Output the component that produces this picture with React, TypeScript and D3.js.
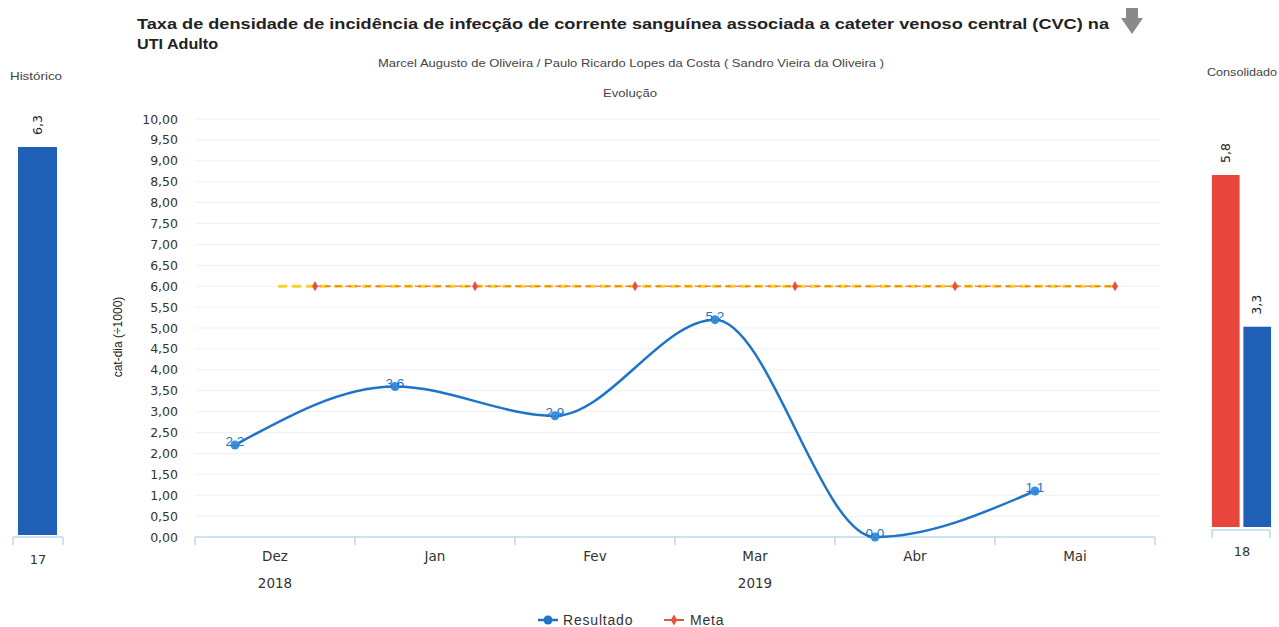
import React from "react";
import * as d3 from "d3";

const categories = ["Dez", "Jan", "Fev", "Mar", "Abr", "Mai"];
const years = [{ label: "2018", at: "Dez" }, { label: "2019", at: "Mar" }];
const resultado = [2.2, 3.6, 2.9, 5.2, 0.0, 1.1];
const meta = [6.0, 6.0, 6.0, 6.0, 6.0, 6.0];
const yTicks = d3.range(0, 10.01, 0.5);
const historicoValue = 6.3;
const historicoLabel = "17";
const consolidadoValues = [5.8, 3.3];
const consolidadoLabel = "18";

const fmt1 = (v: number) => v.toFixed(1).replace(".", ",");
const fmt2 = (v: number) => v.toFixed(2).replace(".", ",");

const FONT = "Liberation Sans, Arial, sans-serif";
const WIDE = "DejaVu Sans, sans-serif";

export default function App() {
  const W = 1279, H = 627;
  const x = d3.scaleBand<string>().domain(categories).range([195, 1155]);
  const y = d3.scaleLinear().domain([0, 10]).range([537, 119]);
  const bw = x.bandwidth();
  const xRes = (c: string) => (x(c) as number) + bw * 0.25;
  const xMeta = (c: string) => (x(c) as number) + bw * 0.75;

  const resLine = d3
    .line<number>()
    .x((_, i) => xRes(categories[i]))
    .y((d) => y(d))
    .curve(d3.curveMonotoneX);
  const metaLine = d3
    .line<number>()
    .x((_, i) => xMeta(categories[i]))
    .y((d) => y(d));
  const yellowPts: [number, number][] = [
    [(x(categories[0]) as number) + bw * 0.52, y(meta[0])],
    [xMeta(categories[categories.length - 1]), y(meta[meta.length - 1])],
  ];

  const hScale = d3.scaleLinear().domain([0, historicoValue]).range([535, 147]);
  const cScale = d3.scaleLinear().domain([0, 5.8]).range([527, 175]);
  const cX = d3.scaleBand<number>().domain([0, 1]).range([1211, 1272]).paddingInner(0.12).paddingOuter(0.03);
  const cColors = ["#e8453c", "#1f5fb6"];

  const blue = "#1d74c9";
  const red = "#e5523f";

  return (
    <svg width={W} height={H} style={{ position: "absolute", left: 0, top: 0, background: "#fff" }} fontFamily={FONT}>
      {/* Title */}
      <text x={137} y={29} fontSize={15.5} fontWeight="bold" fill="#222" textLength={972} lengthAdjust="spacingAndGlyphs">
        Taxa de densidade de incidência de infecção de corrente sanguínea associada a cateter venoso central (CVC) na
      </text>
      <text x={137} y={49} fontSize={15.5} fontWeight="bold" fill="#222" textLength={81} lengthAdjust="spacingAndGlyphs">UTI Adulto</text>
      <path d="M1126,8 h12 v10 h5 l-11,16 l-11,-16 h5 z" fill="#8a8a8a" />
      <text x={631} y={67} fontSize={10.5} textAnchor="middle" fill="#444" textLength={506} lengthAdjust="spacingAndGlyphs">
        Marcel Augusto de Oliveira / Paulo Ricardo Lopes da Costa ( Sandro Vieira da Oliveira )
      </text>
      <text x={630} y={97} fontSize={10.5} textAnchor="middle" fill="#444" textLength={54} lengthAdjust="spacingAndGlyphs">Evolução</text>

      {/* Histórico */}
      <text x={36} y={80} fontSize={10.5} textAnchor="middle" fill="#444" textLength={52} lengthAdjust="spacingAndGlyphs">Histórico</text>
      <rect x={18} y={hScale(historicoValue)} width={39} height={535 - hScale(historicoValue)} fill="#1f5fb6" />
      <text transform={`translate(${42},${hScale(historicoValue) - 12}) rotate(-90)`} fontSize={12.5} fontFamily={WIDE} fill="#222">
        {fmt1(historicoValue)}
      </text>
      <path d="M13,545 V537 H63 V545" fill="none" stroke="#9cc7dd" />
      <text x={38} y={564} fontSize={13} fontFamily={WIDE} textAnchor="middle" fill="#333">{historicoLabel}</text>

      {/* Consolidado */}
      <text x={1242} y={76} fontSize={10.5} textAnchor="middle" fill="#444" textLength={70} lengthAdjust="spacingAndGlyphs">Consolidado</text>
      {consolidadoValues.map((v, i) => (
        <g key={i}>
          <rect x={cX(i)} y={cScale(v)} width={cX.bandwidth()} height={527 - cScale(v)} fill={cColors[i]} />
          <text
            transform={`translate(${(cX(i) as number) + cX.bandwidth() / 2 + 4},${cScale(v) - 12}) rotate(-90)`}
            fontSize={12.5}
            fontFamily={WIDE}
            fill="#222"
          >
            {fmt1(v)}
          </text>
        </g>
      ))}
      <path d="M1212,538 V530 H1270 V538" fill="none" stroke="#9cc7dd" />
      <text x={1242} y={556} fontSize={13} fontFamily={WIDE} textAnchor="middle" fill="#333">{consolidadoLabel}</text>

      {/* Grid */}
      {yTicks.map((t) => (
        <g key={t}>
          {t > 0 && <line x1={195} x2={1160} y1={y(t)} y2={y(t)} stroke="#f0f0f0" />}
          <text x={178} y={y(t) + 4.5} fontSize={12.5} fontFamily={WIDE} textAnchor="end" fill="#333">{fmt2(t)}</text>
        </g>
      ))}
      <text transform={`translate(${122},${337}) rotate(-90)`} fontSize={12} textAnchor="middle" fill="#222">
        cat-dia (÷1000)
      </text>

      {/* X axis */}
      <line x1={195} x2={1155} y1={537} y2={537} stroke="#9cc7dd" />
      {[...categories.map((c) => x(c) as number), 1155].map((px, i) => (
        <line key={i} x1={px} x2={px} y1={537} y2={545} stroke="#9cc7dd" />
      ))}
      {categories.map((c) => (
        <text key={c} x={(x(c) as number) + bw / 2} y={561} fontSize={13.5} fontFamily={WIDE} textAnchor="middle" fill="#333">{c}</text>
      ))}
      {years.map((yr) => (
        <text key={yr.label} x={(x(yr.at) as number) + bw / 2} y={588} fontSize={13.5} fontFamily={WIDE} textAnchor="middle" fill="#333">
          {yr.label}
        </text>
      ))}

      {/* Meta */}
      <line
        x1={yellowPts[0][0]} y1={yellowPts[0][1]} x2={yellowPts[1][0]} y2={yellowPts[1][1]}
        stroke="#f6d22a" strokeWidth={3} strokeDasharray="9,5"
      />
      <path d={metaLine(meta) || ""} fill="none" stroke={red} strokeWidth={1} strokeDasharray="6,4" />
      {meta.map((v, i) => (
        <path
          key={i}
          d={d3.symbol(d3.symbolDiamond, 30)() || ""}
          transform={`translate(${xMeta(categories[i])},${y(v)})`}
          fill={red}
        />
      ))}

      {/* Resultado */}
      <path d={resLine(resultado) || ""} fill="none" stroke={blue} strokeWidth={2.5} />
      {resultado.map((v, i) => (
        <g key={i}>
          <circle cx={xRes(categories[i])} cy={y(v)} r={4.5} fill="#3a8fdc" />
          <text x={xRes(categories[i])} y={y(v) + 1} fontSize={13.5} textAnchor="middle" fill={blue}>
            {fmt1(v)}
          </text>
        </g>
      ))}

      {/* Legend */}
      <line x1={538} x2={558} y1={620} y2={620} stroke={blue} strokeWidth={2.5} />
      <circle cx={548} cy={620} r={4.5} fill={blue} />
      <text x={563} y={625} fontSize={14} fill="#333" letterSpacing={0.8}>Resultado</text>
      <line x1={664} x2={684} y1={620} y2={620} stroke={red} strokeWidth={2} />
      <path d={d3.symbol(d3.symbolDiamond, 36)() || ""} transform="translate(674,620)" fill={red} />
      <text x={690} y={625} fontSize={14} fill="#333" letterSpacing={0.8}>Meta</text>
    </svg>
  );
}
